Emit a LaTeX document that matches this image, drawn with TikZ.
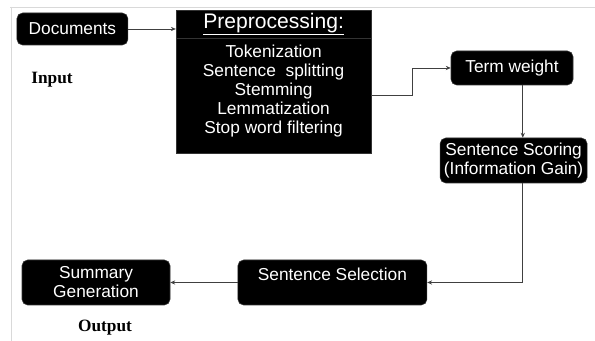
\documentclass[tikz,border=0pt]{standalone}
\usepackage{fontspec}
\setmainfont{Liberation Serif}
\setsansfont{Liberation Sans}
\usepackage{tikz}
\usetikzlibrary{arrows.meta}

\tikzset{
  blk/.style={fill=black, draw=black!80, text=white, font=\sffamily\fontsize{12.3}{13.5}\selectfont, align=center, inner sep=2pt},
  rblk/.style={blk, rounded corners=4pt},
  flow/.style={draw=black!75, line width=0.6pt, -{Stealth[length=3.5pt,width=3pt]}},
  side/.style={font=\bfseries\fontsize{12.3}{14}\selectfont}
}

\begin{document}
\begin{tikzpicture}
  \useasboundingbox (0,0) rectangle (14.875,8.525);
  % frame lines
  \draw[black!15, line width=0.6pt] (0.25,8.35) -- (14.875,8.35);
  \draw[black!15, line width=0.6pt] (0.275,8.35) -- (0.275,0);

  \node[rblk, minimum width=2.775cm, minimum height=0.8cm] (docs) at (1.81,7.8) {Documents};
  \node[side] (input) at (1.3,6.525) {Input};

  \node[blk, minimum width=4.875cm, minimum height=0.55cm, font=\sffamily\fontsize{15}{16}\selectfont] (pre) at (6.84,7.925) {\underline{Preprocessing:}};
  \node[blk, minimum width=4.875cm, minimum height=2.875cm] (body) at (6.84,6.1375) {};
  \node[text=white, font=\sffamily\fontsize{12.3}{13.5}\selectfont, align=center, below] (steps) at ([yshift=-0.05cm]body.north) {Tokenization\\Sentence\ \ splitting\\Stemming\\Lemmatization\\Stop word filtering};

  \node[rblk, minimum width=3.05cm, minimum height=0.85cm] (term) at (12.8,6.825) {Term weight};
  \node[rblk, minimum width=3.675cm, minimum height=1.125cm] (score) at (12.84,4.5125) {Sentence Scoring\\(Information Gain)};
  \node[rblk, minimum width=4.725cm, minimum height=1.125cm, text depth=0.4cm] (sel) at (8.31,1.4625) {Sentence Selection};
  \node[rblk, minimum width=3.7cm, minimum height=1.125cm] (sum) at (2.4,1.4625) {Summary\\Generation};
  \node[side] (output) at (2.625,0.325) {Output};

  \draw[flow] (docs.east) -- (docs.east -| pre.west);
  \draw[flow] (body.east) -- ++(1.025,0) |- (term.west);
  \draw[flow] ([xshift=0.27cm]term.south) -- ([xshift=0.27cm]term.south |- score.north);
  \draw[flow] ([xshift=0.23cm]score.south) |- (sel.east);
  \draw[flow] (sel.west) -- (sum.east);
\end{tikzpicture}
\end{document}
